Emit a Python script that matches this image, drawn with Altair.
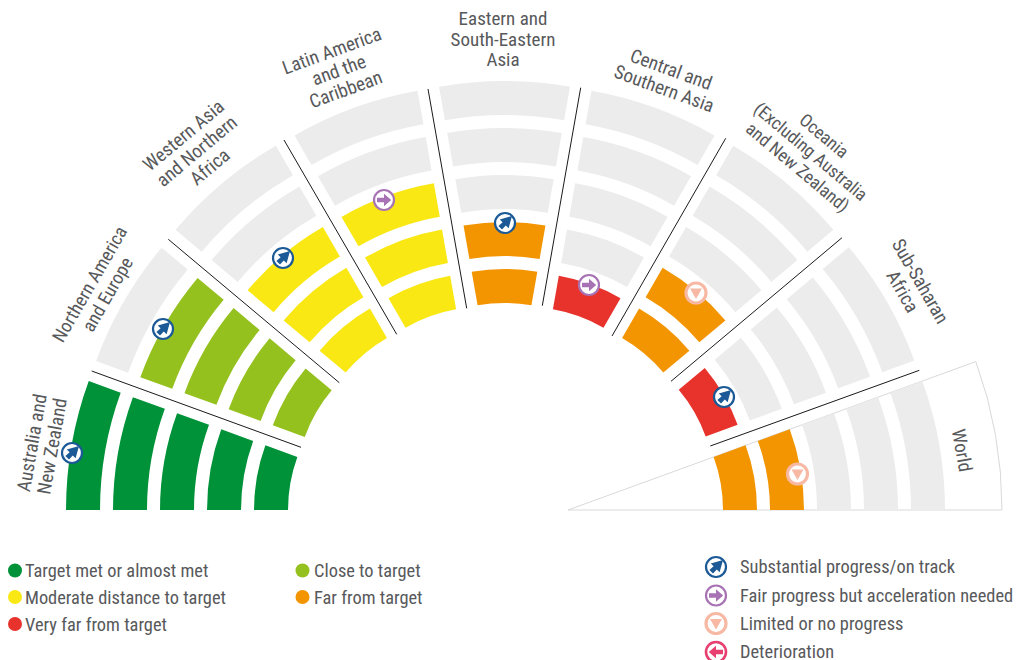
import math
import altair as alt
import pandas as pd

# ---- data ----
SECTORS = ["Australia and\nNew Zealand", "Northern America\nand Europe", "Western Asia\nand Northern\nAfrica",
           "Latin America\nand the\nCaribbean", "Eastern and\nSouth-Eastern\nAsia", "Central and\nSouthern Asia",
           "Oceania\n(Excluding Australia\nand New Zealand)", "Sub-Saharan\nAfrica", "World"]
CENTER_X = [443, 450.4, 464.4, 483, 504.5, 526, 544.6, 560, 568]
CENTER_Y = [510, 490, 472.2, 462, 458, 462, 472.2, 489.5, 510]
LABEL_X = [42.5, 99, 197, 339, 503, 667.5, 810, 911, 961.5]
LABEL_Y = [444, 289, 151, 70, 39, 79, 152, 286, 450]
LABEL_ANGLE = [280, 300, 320, 340, 0, 20, 40, 60, 80]
LABEL_SIZE = [19, 18.6, 19, 19, 19, 19, 18, 19, 19]
BANDS = [
    ["green"] * 5,
    ["lime"] * 4 + ["grey"],
    ["yellow"] * 3 + ["grey"] * 2,
    ["yellow"] * 3 + ["grey"] * 2,
    ["orange"] * 2 + ["grey"] * 3,
    ["red"] + ["grey"] * 4,
    ["orange"] * 2 + ["grey"] * 3,
    ["red"] + ["grey"] * 4,
    ["orange"] * 2 + ["grey"] * 3,
]
BAND_INNER = [155, 202, 249, 296, 343]
BAND_OUTER = [189, 236, 283, 330, 377]
COLORS = {"green": "#009239", "lime": "#95C11F", "yellow": "#F9E814", "orange": "#F39500",
          "red": "#E8332C", "grey": "#ECECEC"}
MARK_X = [72, 163, 283, 384, 505, 589, 696, 724, 797.5]
MARK_Y = [453, 329, 258, 200, 223, 285, 293, 397, 474]
MARK_KIND = ["up", "up", "up", "fair", "up", "fair", "limited", "up", "limited"]
SEP_X1 = [91.7, 168.3, 284, 428, 580.7, 725.7, 842, 919.3]
SEP_Y1 = [371, 239.3, 140, 89, 87.7, 138.3, 237.7, 370.3]
SEP_X2 = [301, 339.3, 396.7, 466.7, 542.3, 612, 671, 710.3]
SEP_Y2 = [447.3, 382.7, 334.3, 308.3, 305.7, 336, 381.3, 446]
LEG_C_X = [15, 15, 15, 302.5, 302.5]
LEG_C_Y = [570.5, 597, 624, 570.5, 597]
LEG_T_X = [25, 25, 25, 314, 314]
LEG_T_Y = [571, 597.5, 624.5, 571, 597.5]
LEG_C_COL = ["green", "yellow", "red", "lime", "orange"]
LEG_C_TXT = ["Target met or almost met", "Moderate distance to target", "Very far from target",
             "Close to target", "Far from target"]
LEG_M_X = [716, 716, 716, 716]
LEG_M_Y = [567, 595.5, 623.5, 652]
LEG_M_KIND = ["up", "fair", "limited", "down"]
LEG_M_TXT = ["Substantial progress/on track", "Fair progress but acceleration needed",
             "Limited or no progress", "Deterioration"]
KINDS = {
    "up": ("#1B5A96", "M0.7,-0.7 L0.36,0.52 L0.08,0.24 L-0.3,0.66 L-0.66,0.3 L-0.24,-0.08 L-0.52,-0.36 Z", 2.2),
    "fair": ("#A873B4", "M0.72,0 L0,-0.62 L0,-0.22 L-0.7,-0.22 L-0.7,0.22 L0,0.22 L0,0.62 Z", 2.2),
    "limited": ("#F7B9A4", "M-0.6,-0.46 L0.6,-0.46 L0,0.6 Z", 3.2),
    "down": ("#E63F70", "M-0.72,0 L0,-0.62 L0,-0.22 L0.7,-0.22 L0.7,0.22 L0,0.22 L0,0.62 Z", 2.6),
}
TEXT = "#58595B"
FONT = "Roboto Condensed, Liberation Sans Narrow, Roboto"
FS = 18.4
LH = 20.5

W, H = 1010, 652
xs = alt.Scale(domain=[8, 8 + W], range=[0, W])
ys = alt.Scale(domain=[8, 8 + H], range=[0, H])
X = lambda f: alt.X(f, type="quantitative", scale=xs, axis=None)
Y = lambda f: alt.Y(f, type="quantitative", scale=ys, axis=None)

rows = []
for k, bands in enumerate(BANDS):
    for j, c in enumerate(bands):
        rows.append({"cx": CENTER_X[k], "cy": CENTER_Y[k], "t1": math.radians(20 * k - 90),
                     "t2": math.radians(20 * k - 70), "r1": BAND_INNER[j], "r2": BAND_OUTER[j], "col": COLORS[c]})
arcs = alt.Chart(pd.DataFrame(rows)).mark_arc().encode(
    x=X("cx"), y=Y("cy"),
    theta=alt.Theta("t1:Q", scale=None, stack=None), theta2=alt.Theta2("t2:Q"),
    radius=alt.Radius("r2:Q", scale=None), radius2=alt.Radius2("r1:Q"),
    fill=alt.Fill("col:N", scale=None))

world = alt.Chart(pd.DataFrame([{"cx": CENTER_X[8], "cy": CENTER_Y[8], "t1": math.radians(70), "t2": math.radians(90), "r2": 434}])
    ).mark_arc(fill="white", stroke="#D9D9D9", strokeWidth=1).encode(
    x=X("cx"), y=Y("cy"),
    theta=alt.Theta("t1:Q", scale=None, stack=None), theta2=alt.Theta2("t2:Q"),
    radius=alt.Radius("r2:Q", scale=None))

seps = alt.Chart(pd.DataFrame({"x": SEP_X1, "y": SEP_Y1, "x2": SEP_X2, "y2": SEP_Y2})).mark_rule(
    color="#1A1A1A", strokeWidth=1).encode(x=X("x"), y=Y("y"), x2="x2:Q", y2="y2:Q")

# a multi-line label is anchored on its first line: step back from the block's centre
lab_rows = []
for t, x, y, a, s in zip(SECTORS, LABEL_X, LABEL_Y, LABEL_ANGLE, LABEL_SIZE):
    n = t.count("\n")
    rad = math.radians(a)
    off = n / 2 * LH
    lab_rows.append({"x": x + off * math.sin(rad), "y": y - off * math.cos(rad) + 0.5, "t": t, "a": a, "s": s})
labels = alt.Chart(pd.DataFrame(lab_rows)).mark_text(
    font=FONT, color=TEXT, align="center", baseline="middle", lineBreak="\n", lineHeight=LH).encode(
    x=X("x"), y=Y("y"), text="t:N", angle=alt.Angle("a:Q", scale=None), size=alt.Size("s:Q", scale=None))

mk = pd.DataFrame({"x": MARK_X + LEG_M_X, "y": MARK_Y + LEG_M_Y, "k": MARK_KIND + LEG_M_KIND})
layers = [world, arcs, seps, labels]
for kind, (col, path, sw) in KINDS.items():
    d = mk[mk.k == kind]
    layers.append(alt.Chart(d).mark_point(shape="circle", filled=True, fill="white", stroke=col, strokeWidth=sw,
                                          size=400, opacity=1).encode(x=X("x"), y=Y("y")))
    layers.append(alt.Chart(d).mark_point(shape=path, filled=True, fill=col, stroke=col, strokeWidth=0,
                                          size=400, opacity=1).encode(x=X("x"), y=Y("y")))

lc = pd.DataFrame({"x": LEG_C_X, "y": LEG_C_Y, "tx": LEG_T_X, "ty": LEG_T_Y,
                   "c": [COLORS[c] for c in LEG_C_COL], "t": LEG_C_TXT})
layers.append(alt.Chart(lc).mark_point(shape="circle", filled=True, size=196, opacity=1).encode(
    x=X("x"), y=Y("y"), fill=alt.Fill("c:N", scale=None)))
layers.append(alt.Chart(lc).mark_text(
    font=FONT, fontSize=FS, color=TEXT, align="left", baseline="middle").encode(x=X("tx"), y=Y("ty"), text="t:N"))
lm = pd.DataFrame({"x": LEG_M_X, "y": LEG_M_Y, "t": LEG_M_TXT})
layers.append(alt.Chart(lm).transform_calculate(tx="datum.x+24", ty="datum.y+0.4").mark_text(
    font=FONT, fontSize=FS, color=TEXT, align="left", baseline="middle").encode(x=X("tx"), y=Y("ty"), text="t:N"))

chart = alt.layer(*layers).properties(width=W, height=H, padding=0, background="white",
    autosize=alt.AutoSizeParams(type="none")).configure_view(stroke=None)
chart.save("out.html", embed_options={"renderer": "svg", "actions": False})
